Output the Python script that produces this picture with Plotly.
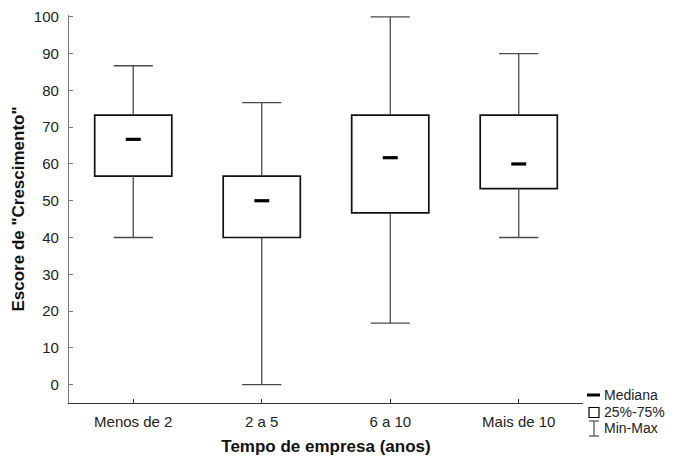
import plotly.graph_objects as go

categories = ["Menos de 2", "2 a 5", "6 a 10", "Mais de 10"]
minimum = [40.0, 0.0, 16.7, 40.0]
q1 = [56.7, 40.0, 46.7, 53.3]
median = [66.7, 50.0, 61.7, 60.0]
q3 = [73.3, 56.7, 73.3, 73.3]
maximum = [86.7, 76.7, 100.0, 90.0]

y_ticks = list(range(0, 101, 10))
x_title = "Tempo de empresa (anos)"
y_title = 'Escore de "Crescimento"'
legend_labels = ["Mediana", "25%-75%", "Min-Max"]

FONT = "Liberation Sans, Arial, sans-serif"
WHISK = "#4a4a4a"

fig = go.Figure()

# whisker stems (q3 -> max and q1 -> min)
wx, wy = [], []
for c, a, b, lo, hi in zip(categories, q1, q3, minimum, maximum):
    wx += [c, c, None, c, c, None]
    wy += [b, hi, None, a, lo, None]
fig.add_trace(go.Scatter(x=wx, y=wy, mode="lines", line=dict(color=WHISK, width=1.3),
                         hoverinfo="skip", showlegend=False))
# whisker caps
fig.add_trace(go.Scatter(x=categories + categories, y=maximum + minimum, mode="markers",
                         marker=dict(symbol="line-ew", size=28,
                                     line=dict(color=WHISK, width=1.3)),
                         showlegend=False))
# boxes
fig.add_trace(go.Bar(x=categories, y=[b - a for a, b in zip(q1, q3)], base=q1, width=0.6,
                     marker=dict(color="white", line=dict(color="#111111", width=1.7)),
                     showlegend=False))
# medians
fig.add_trace(go.Scatter(x=categories, y=median, mode="markers",
                         marker=dict(symbol="line-ew", size=10.7,
                                     line=dict(color="black", width=3.2)),
                         showlegend=False))

L, R, T, B = 69, 583, 15, 403
W, H = R - L, B - T
px = lambda v: (v - L) / W
py = lambda v: (B - v) / H

shapes = [
    dict(type="line", xref="paper", yref="paper", x0=px(587), x1=px(600), y0=py(395), y1=py(395),
         line=dict(color="black", width=3)),
    dict(type="rect", xref="paper", yref="paper", x0=px(589), x1=px(599), y0=py(417.5), y1=py(407.5),
         line=dict(color="black", width=1.2), fillcolor="white"),
    dict(type="line", xref="paper", yref="paper", x0=px(594), x1=px(594), y0=py(421), y1=py(436),
         line=dict(color=WHISK, width=1.2)),
    dict(type="line", xref="paper", yref="paper", x0=px(589), x1=px(599), y0=py(421), y1=py(421),
         line=dict(color=WHISK, width=1.2)),
    dict(type="line", xref="paper", yref="paper", x0=px(589), x1=px(599), y0=py(436), y1=py(436),
         line=dict(color=WHISK, width=1.2)),
]
annotations = []
for lab, yy in zip(legend_labels, [395, 412, 428]):
    annotations.append(dict(text=lab, xref="paper", yref="paper", x=px(602), y=py(yy),
                            xanchor="left", yanchor="middle", showarrow=False,
                            font=dict(family=FONT, size=14, color="#222222")))

fig.update_layout(
    width=678, height=456,
    margin=dict(l=L, r=678 - R, t=T, b=456 - B, autoexpand=False),
    paper_bgcolor="white", plot_bgcolor="white",
    font=dict(family=FONT, color="#222222"),
    showlegend=False,
    shapes=shapes, annotations=annotations,
    xaxis=dict(type="category", range=[-0.5, 3.5], showline=True, linecolor="#333333", linewidth=1.3,
               ticks="inside", ticklen=4, tickcolor="#333333", showgrid=False, zeroline=False,
               automargin=False,
               tickfont=dict(size=15, family=FONT, color="#222222"), ticklabelstandoff=5,
               title=dict(text=x_title, font=dict(size=17, family=FONT, color="#111111", weight="bold"),
                          standoff=18)),
    yaxis=dict(range=[-5, 100.5], tickvals=y_ticks, showline=True, linecolor="#777777", linewidth=1.3,
               ticks="inside", ticklen=4, tickcolor="#777777", showgrid=False, zeroline=False,
               automargin=False,
               tickfont=dict(size=15, family=FONT, color="#222222"), ticklabelstandoff=6,
               title=dict(text=y_title, font=dict(size=17, family=FONT, color="#111111", weight="bold"),
                          standoff=4)),
)

fig.write_html("out.html")
